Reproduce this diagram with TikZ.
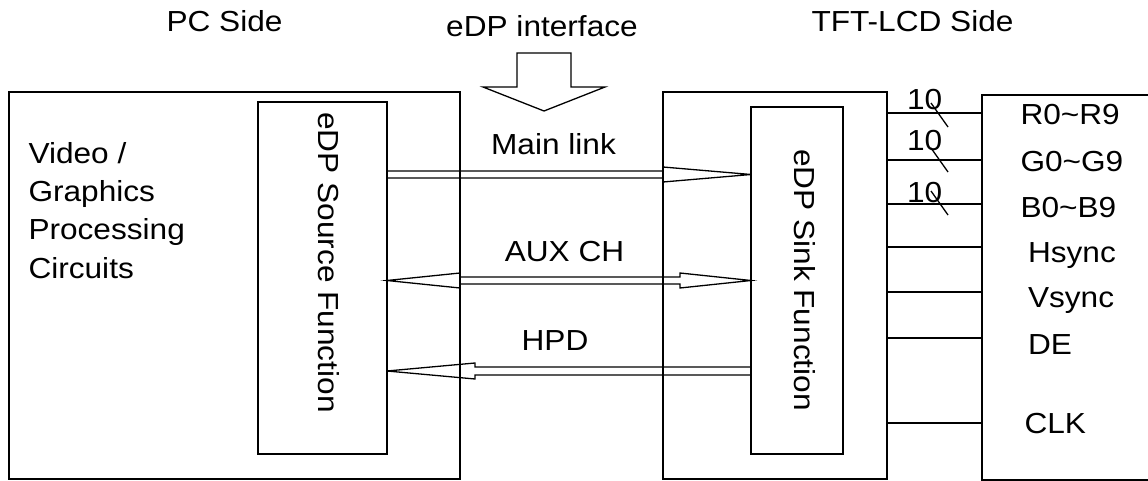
\documentclass[tikz,border=0pt]{standalone}
\usepackage{fontspec}
\setmainfont{Liberation Sans}[FakeStretch=1.09]
\usetikzlibrary{calc}
\begin{document}
\begin{tikzpicture}[x=1pt,y=-1pt,
  every node/.style={inner sep=0pt,outer sep=0pt},
  txt/.style={font=\fontsize{29}{38.3}\selectfont},
  blk/.style={draw,line width=1.6pt,anchor=north west},
  hollow/.style={draw,line width=1.3pt,line join=miter},
  sig/.style={draw,line width=1.5pt},
  tick/.style={draw,line width=1.3pt}]
\useasboundingbox (0,0) rectangle (1148,481);
\clip (0,0) rectangle (1148,481);
% boxes
\node[blk,minimum width=451pt,minimum height=387pt] (pc) at (9,92) {};
\node[blk,minimum width=129pt,minimum height=352pt] (src) at (258,102) {};
\node[blk,minimum width=224pt,minimum height=387pt] (tft) at (663,92) {};
\node[blk,minimum width=92pt,minimum height=347pt] (snk) at (751,107) {};
\node[blk,minimum width=230pt,minimum height=385pt] (lcd) at (982,95) {};
% headings
\node[txt,anchor=base] (hpc) at (224.5,32) {PC Side};
\node[txt,anchor=base] (hif) at (542,37) {eDP interface};
\node[txt,anchor=base] (htft) at (912.5,32) {TFT-LCD Side};
% interface arrow
\draw[hollow] (517,53) -- (571,53) -- (571,87) -- (605,87) -- (544,111)
  -- (483,87) -- (517,87) -- cycle;
% left text (base anchor = last line)
\node[txt,anchor=base west,align=left] (vg) at (28.5,278)
  {Video /\\Graphics\\Processing\\Circuits};
% rotated texts
\node[txt,rotate=-90,anchor=base] (srct) at (318,262.5) {eDP Source Function};
\node[txt,rotate=-90,anchor=base] (snkt) at (794,280) {eDP Sink Function};
% link labels
\node[txt,anchor=base] (lml) at (553.5,155) {Main link};
\node[txt,anchor=base] (laux) at (564.5,261) {AUX CH};
\node[txt,anchor=base] (lhpd) at (555,350) {HPD};
% Main link
\draw[hollow] (src.east |- 0,171) -- (663,171) -- ++(0,-4)
  -- (snk.west |- 0,174.5) -- (663,182) -- ++(0,-4) -- (src.east |- 0,178);
% AUX CH
\draw[hollow] (src.east |- 0,280.5) -- (460,273) -- ++(0,4) -- (680,277)
  -- ++(0,-4) -- (snk.west |- 0,280.5) -- (680,288) -- ++(0,-4)
  -- (460,284) -- ++(0,4) -- cycle;
% HPD
\draw[hollow] (snk.west |- 0,367) -- (475,367) -- ++(0,-4)
  -- (src.east |- 0,371) -- (475,379) -- ++(0,-4) -- (snk.west |- 0,375);
% signal lines
\foreach \yy in {113,160,204,247,292,338,423}
  \draw[sig] (tft.east |- 0,\yy) -- (lcd.west |- 0,\yy);
% bus ticks
\draw[tick] (931,103) -- (948,127);
\draw[tick] (931,148) -- (948,172);
\draw[tick] (931,191) -- (948,215);
\node[txt,anchor=base west] (n1) at (907,110) {10};
\node[txt,anchor=base west] (n2) at (907,151) {10};
\node[txt,anchor=base west] (n3) at (907,203) {10};
% signal names
\node[txt,anchor=base west] (sr) at (1020.5,125) {R0\textasciitilde R9};
\node[txt,anchor=base west] (sg) at (1020.5,172) {G0\textasciitilde G9};
\node[txt,anchor=base west] (sb) at (1020.5,218) {B0\textasciitilde B9};
\node[txt,anchor=base west] (sh) at (1028,262) {Hsync};
\node[txt,anchor=base west] (sv) at (1028,307) {Vsync};
\node[txt,anchor=base west] (sd) at (1028,354) {DE};
\node[txt,anchor=base west] (sc) at (1024.5,433) {CLK};
\end{tikzpicture}
\end{document}
